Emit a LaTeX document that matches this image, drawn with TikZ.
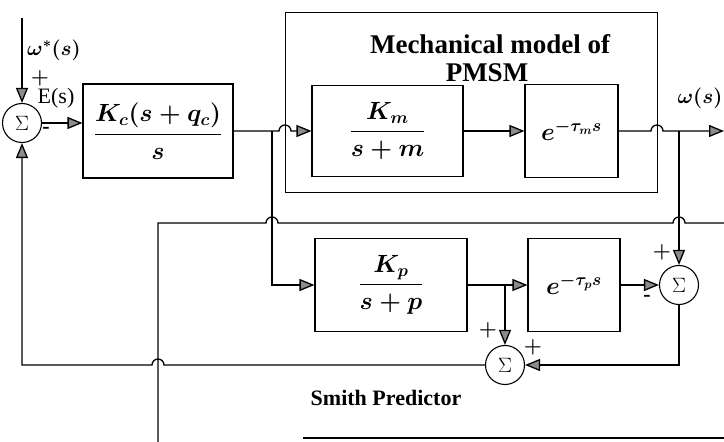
\documentclass[tikz,border=0pt]{standalone}
\usepackage{amsmath,amssymb}
\usepackage{fontspec}
\setmainfont{Liberation Serif}
\usetikzlibrary{arrows.meta}

\begin{document}
\begin{tikzpicture}[x=1pt,y=1pt,line width=1.3pt,
 b/.style={draw,line width=1.1pt,inner sep=0pt,font=\fontsize{24}{28}\selectfont\boldmath},
 sm/.style={draw,circle,line width=1.1pt,minimum size=39pt,inner sep=0pt,font=\fontsize{22}{24}\selectfont},
 lbl/.style={font=\fontsize{22}{24}\selectfont\boldmath},
 ttl/.style={font=\fontsize{27}{30}\selectfont\bfseries},
 >={Triangle[length=15pt,width=12pt,fill=black!45]}]
\useasboundingbox (0,0) rectangle (724,442);
% forward path
\node[b,minimum width=150pt,minimum height=94pt] (kc) at (158,311) {$\dfrac{K_c(s+q_c)}{s}$};
\node[b,minimum width=151pt,minimum height=91pt] (km) at (387.5,311) {$\dfrac{K_m}{s+m}$};
\node[b,minimum width=93pt,minimum height=93pt] (dm) at (571.5,311) {$e^{-\tau_m s}$};
% smith predictor
\node[b,minimum width=152pt,minimum height=93pt] (kp) at (391,157) {$\dfrac{K_p}{s+p}$};
\node[b,minimum width=92pt,minimum height=93pt] (dp) at (574,157) {$e^{-\tau_p s}$};
\node[sm] (s1) at (22,319) {$\Sigma$};
\node[sm] (s2) at (505,77) {$\Sigma$};
\node[sm] (s3) at (679,157) {$\Sigma$};
\coordinate (in) at (22,424); \coordinate (out) at (724,311);
\coordinate (br1) at (272,311); \coordinate (br2) at (505,157); \coordinate (br3) at (679,311);
% frames
\draw[line width=1pt] (285,249) rectangle (657,429);
\draw (724,219) -- (685,219) arc[start angle=0,end angle=180,radius=6] -- (278,219) arc[start angle=0,end angle=180,radius=6] -- (158,219) -- (158,0);
\draw (303,4) -- (724,4);
\node[ttl] (mt) at (490,398) {Mechanical model of};
\node[ttl] (mp) at (487,369) {PMSM};
\node[ttl,font=\fontsize{22}{24}\selectfont\bfseries] (st) at (386,44) {Smith Predictor};
% signals
\draw[->] (in) -- (s1.north); \draw[->] (s1.east) -- (kc.west |- s1.east);
\draw[->] (kc.east) -- (279,311) arc[start angle=180,end angle=0,radius=6] -- (km.west);
\draw[->] (br1) |- (kp.west); \draw[->] (km.east) -- (dm.west);
\draw[->] (dm.east) -- (651,311) arc[start angle=180,end angle=0,radius=6] -- (out);
\draw[->] (br3) -- (s3.north); \draw[->] (kp.east) -- (dp.west); \draw[->] (br2) -- (s2.north);
\draw[->] (dp.east) -- (s3.west); \draw[->] (s3.south) |- (s2.east);
\draw[->] (s2.west) -- (164,77) arc[start angle=0,end angle=180,radius=6] -- (22,77) -- (s1.south);
% signs and labels
\node[lbl] (w0) at (54,392) {$\omega^{*}(s)$};
\node[lbl] (p1) at (40,364) {$+$};
\node[lbl] (es) at (56,344) {E(s)};
\node[lbl] (m1) at (46,312) {\textbf{-}};
\node[lbl] (p3) at (662,190) {$+$};
\node[lbl] (m3) at (647,144) {\textbf{-}};
\node[lbl] (p2a) at (488,112) {$+$};
\node[lbl] (p2b) at (533,95) {$+$};
\node[lbl] (wo) at (700,344) {$\omega(s)$};
\end{tikzpicture}
\end{document}
